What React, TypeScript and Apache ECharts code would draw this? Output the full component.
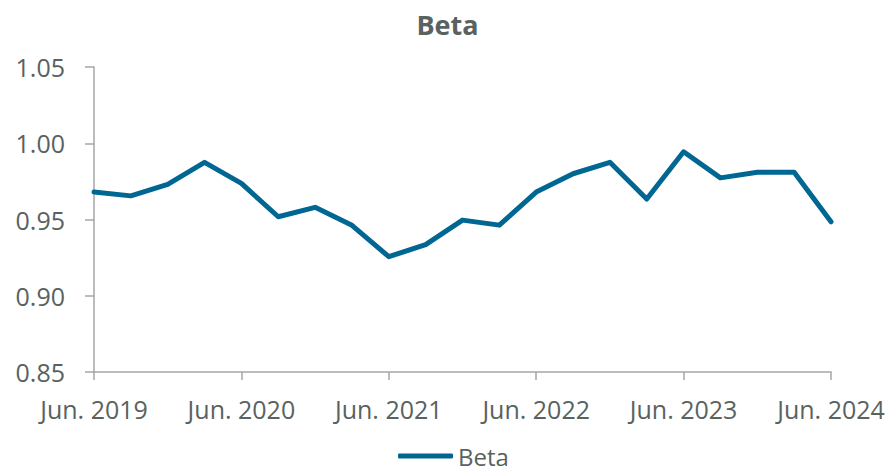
import React, { useEffect, useRef } from "react";
import * as echarts from "echarts";

const categories = [
  "Jun. 2019", "Sep. 2019", "Dec. 2019", "Mar. 2020",
  "Jun. 2020", "Sep. 2020", "Dec. 2020", "Mar. 2021",
  "Jun. 2021", "Sep. 2021", "Dec. 2021", "Mar. 2022",
  "Jun. 2022", "Sep. 2022", "Dec. 2022", "Mar. 2023",
  "Jun. 2023", "Sep. 2023", "Dec. 2023", "Mar. 2024",
  "Jun. 2024",
];
const betaValues = [
  0.968, 0.9655, 0.973, 0.9875,
  0.9737, 0.9518, 0.958, 0.9462,
  0.9256, 0.9335, 0.9496, 0.9463,
  0.968, 0.980, 0.9875, 0.9634,
  0.9944, 0.9773, 0.981, 0.981,
  0.9485,
];
const yTicks = { min: 0.85, max: 1.05, interval: 0.05 };

const textColor = "#59625f";
const axisColor = "#a6a6a6";
const lineColor = "#006692";
const font = "'Open Sans', 'Noto Sans', sans-serif";

export default function App() {
  const ref = useRef<HTMLDivElement>(null);
  useEffect(() => {
    if (!ref.current) return;
    const chart = echarts.init(ref.current, undefined, { renderer: "svg" });
    chart.setOption({
      animation: false,
      backgroundColor: "#ffffff",
      title: {
        text: "Beta",
        left: "center",
        top: 6,
        textStyle: { color: textColor, fontSize: 27, fontWeight: "bold", fontFamily: font },
      },
      legend: {
        data: ["Beta"],
        top: 444,
        left: 398,
        padding: 0,
        icon: "roundRect",
        itemWidth: 55,
        itemHeight: 5,
        itemGap: 10,
        textStyle: { color: textColor, fontSize: 24, lineHeight: 22, fontFamily: font, padding: [0, 0, 0, 0] },
      },
      grid: { left: 94, right: 64, top: 67, bottom: 100, containLabel: false },
      xAxis: {
        type: "category",
        data: categories,
        boundaryGap: false,
        axisLine: { lineStyle: { color: axisColor, width: 1.5 } },
        axisTick: { show: true, length: 8, interval: 3, lineStyle: { color: axisColor, width: 1.5 } },
        axisLabel: {
          interval: 3,
          margin: 24,
          color: textColor,
          fontSize: 25,
          fontFamily: font,
        },
        splitLine: { show: false },
      },
      yAxis: {
        type: "value",
        min: yTicks.min,
        max: yTicks.max,
        interval: yTicks.interval,
        axisLine: { show: true, lineStyle: { color: axisColor, width: 1.5 } },
        axisTick: { show: true, length: 9, lineStyle: { color: axisColor, width: 1.5 } },
        axisLabel: {
          margin: 29,
          color: textColor,
          fontSize: 25,
          fontFamily: font,
          formatter: (v: number) => v.toFixed(2),
        },
        splitLine: { show: false },
      },
      series: [
        {
          name: "Beta",
          type: "line",
          data: betaValues,
          showSymbol: false,
          symbol: "none",
          lineStyle: { color: lineColor, width: 5, join: "round", cap: "round" },
          itemStyle: { color: lineColor },
        },
      ],
    });
    return () => chart.dispose();
  }, []);
  return (
    <div
      ref={ref}
      style={{ position: "fixed", left: 0, top: 0, width: 895, height: 472 }}
    />
  );
}
